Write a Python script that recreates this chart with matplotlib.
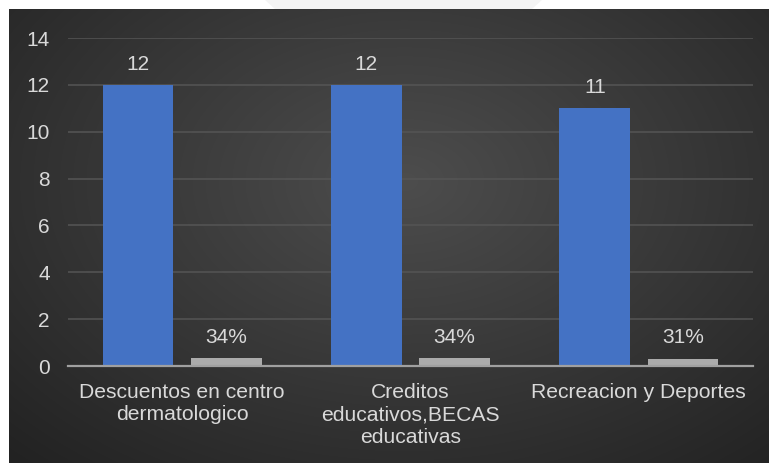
import matplotlib.pyplot as plt
import numpy as np

categorias = ['Descuentos en centro\ndermatologico',
              'Creditos\neducativos,BECAS\neducativas',
              'Recreacion y Deportes']
cantidad = [12, 12, 11]
porcentaje = [0.34, 0.34, 0.31]
etiquetas_pct = ['34%', '34%', '31%']

plt.rcParams['font.family'] = ['Liberation Sans', 'DejaVu Sans']
txt = '#d9d9d9'

fig = plt.figure(figsize=(7.69, 4.63), dpi=100)
fig.patch.set_facecolor('white')

# light shape peeking in the white strip on top
fig.patches.append(plt.Polygon([[265 / 769, 1], [542 / 769, 1], [532 / 769, 454 / 463], [275 / 769, 454 / 463]],
                               closed=True, transform=fig.transFigure, facecolor='#f4f4f4',
                               edgecolor='none', zorder=0))

# dark panel with a radial gradient
bg = fig.add_axes([9 / 769, 0, 760 / 769, 454 / 463])
bg.set_axis_off()
h, w = 454, 760
yy, xx = np.mgrid[0:h, 0:w]
r = np.sqrt(((xx - 0.52 * w) / (0.75 * w)) ** 2 + ((yy - 0.38 * h) / (0.85 * h)) ** 2)
r = np.clip(r, 0, 1)
lvl = 77 - (77 - 34) * r
img = np.dstack([lvl, lvl, lvl]) / 255.0
bg.imshow(img, aspect='auto', extent=[0, 1, 0, 1], interpolation='bilinear')
bg.set_xlim(0, 1)
bg.set_ylim(0, 1)

ax = fig.add_axes([68 / 769, 97 / 463, 685 / 769, 328 / 463])
ax.patch.set_alpha(0)

x = np.arange(len(categorias))
off = 0.193
ancho = 0.31
b1 = ax.bar(x - off, cantidad, ancho, color='#4472C4', zorder=3)
b2 = ax.bar(x + off, porcentaje, ancho, color='#ababab', zorder=3)

for rect, v in zip(b1, cantidad):
    ax.annotate(str(v), (rect.get_x() + rect.get_width() / 2, v), xytext=(0, 11),
                textcoords='offset points', ha='center', va='baseline', color=txt, fontsize=15)
for rect, v, s in zip(b2, porcentaje, etiquetas_pct):
    ax.annotate(s, (rect.get_x() + rect.get_width() / 2, v), xytext=(0, 11),
                textcoords='offset points', ha='center', va='baseline', color=txt, fontsize=15)

ax.set_xlim(-0.5, 2.5)
ax.set_ylim(0, 14)
ax.set_yticks(range(0, 15, 2))
ax.set_xticks(x)
ax.set_xticklabels(categorias, fontsize=15.2, color=txt, linespacing=1.25)
ax.tick_params(axis='y', length=0, pad=13, labelsize=15, labelcolor=txt)
ax.tick_params(axis='x', length=0, pad=12)

ax.grid(axis='y', color='#555555', linewidth=1.1, zorder=0)
for s in ['top', 'right', 'left']:
    ax.spines[s].set_visible(False)
ax.spines['bottom'].set_color('#a0a0a0')
ax.spines['bottom'].set_linewidth(1.6)
ax.spines['bottom'].set_zorder(4)

plt.savefig('out.png', dpi=100)
